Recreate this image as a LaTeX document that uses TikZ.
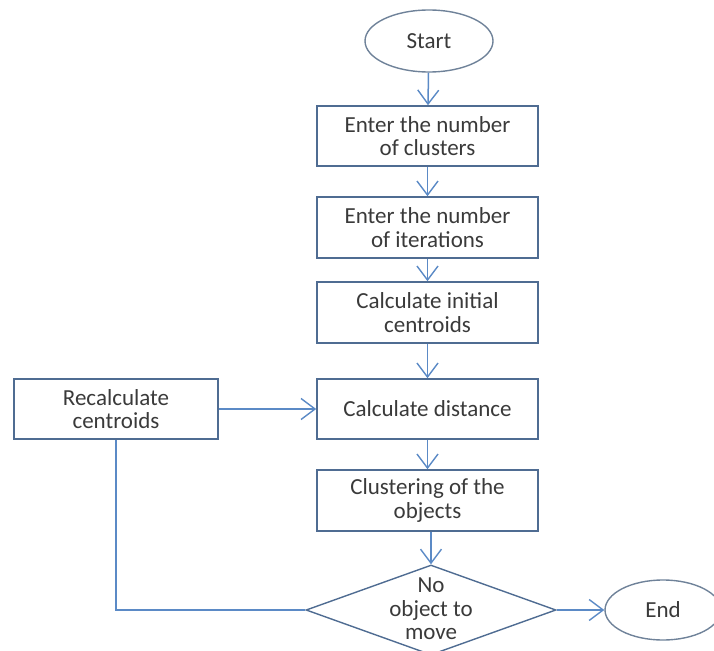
\documentclass[tikz,border=0pt]{standalone}
\usepackage{fontspec}
\setmainfont{Carlito}
\usetikzlibrary{shapes.geometric,arrows.meta}
\definecolor{conn}{HTML}{5B8AC6}
\definecolor{boxline}{HTML}{4F6C92}
\definecolor{ovline}{HTML}{6F8299}
\definecolor{txt}{HTML}{3A3A3A}
\begin{document}
\begin{tikzpicture}[x=1pt,y=-1pt,
  txtstyle/.style={text=txt,font=\fontsize{23}{23.5}\selectfont,align=center},
  procbox/.style={draw=boxline,line width=1.6pt,rectangle,minimum width=221pt,minimum height=60pt,inner sep=0pt,txtstyle},
  termin/.style={draw=ovline,line width=1.4pt,ellipse,inner sep=0pt,txtstyle},
  conarrow/.style={draw=conn,line width=1.5pt,-{Straight Barb[length=14pt,width=21pt,line width=1.4pt]}},
  conline/.style={draw=conn,line width=1.5pt}]
\useasboundingbox (0,0) rectangle (714,650);
\node[termin,minimum width=128pt,minimum height=62pt] (start) at (429,41) {Start};
\node[procbox] (b1) at (427.5,136) {Enter the number\\of clusters};
\node[procbox,minimum height=61pt] (b2) at (427.5,227.5) {Enter the number\\of iterations};
\node[procbox,minimum height=61pt] (b3) at (427.5,312.5) {Calculate initial\\centroids};
\node[procbox] (b4) at (427.5,409) {Calculate distance};
\node[procbox,minimum height=61pt] (b5) at (427.5,500.5) {Clustering of the\\objects};
\node[procbox,minimum width=204pt] (rc) at (116,409) {Recalculate\\centroids};
\node[diamond,draw=boxline,line width=1.4pt,minimum width=250pt,minimum height=90pt,inner sep=0pt] (dec) at (431,610) {};
\node[txtstyle] (dectext) at (431,609) {No\\object to\\move};
\node[termin,minimum width=116pt,minimum height=60pt] (end) at (663,610) {End};
\draw[conarrow] (start) -- (b1);
\draw[conarrow] (b1) -- (b2);
\draw[conarrow] (b2) -- (b3);
\draw[conarrow] (b3) -- (b4);
\draw[conarrow] (b4) -- (b5);
\draw[conarrow] (b5.south -| dec.north) -- (dec.north);
\draw[conarrow] (dec.east) -- (end.west);
\draw[conarrow] (rc.east) -- (b4.west);
\draw[conline] (dec.west) -| (rc.south);
\end{tikzpicture}
\end{document}
